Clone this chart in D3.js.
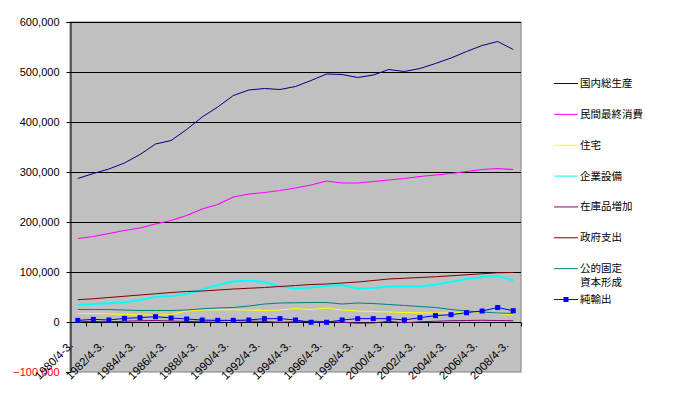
<!DOCTYPE html>
<html>
<head>
<meta charset="utf-8">
<script src="https://cdn.jsdelivr.net/npm/d3@7"></script>
<style>
  body { margin: 0; background: #fff; }
  svg { display: block; font-family: "Liberation Sans", Arial, sans-serif; }
</style>
</head>
<body>
<svg id="chart" width="677" height="396"></svg>
<script>
// fiscal years 1980..2008 (April - March)
const years = d3.range(1980, 2009).map((y) => `${y}/4-3.`);

const gdp = [287000, 297000, 306000, 318000, 335000, 356000, 363000, 385000, 410000, 430000,
  453000, 464000, 467000, 465000, 471000, 483000, 496000, 495000, 489000, 494000,
  505000, 501000, 507000, 517000, 528000, 541000, 553000, 561000, 545000];
const consumption = [167000, 171000, 177000, 183000, 188000, 196000, 203000, 213000, 226000, 235000,
  250000, 256000, 259000, 263000, 268000, 274000, 282000, 278000, 278000, 281000,
  284000, 287000, 291000, 294000, 297000, 301000, 305000, 307000, 305000];
const housing = [17000, 17000, 16500, 15000, 14000, 14000, 15000, 22000, 24000, 25000,
  24500, 24000, 23000, 24000, 27000, 25000, 28000, 24000, 22000, 21000,
  20000, 19000, 18500, 18000, 18000, 19000, 20000, 17000, 15000];
const investment = [34000, 36000, 37500, 39500, 44000, 50000, 52000, 56000, 65000, 74000,
  81000, 83000, 80000, 71000, 67000, 69000, 72000, 74000, 67000, 68000,
  71000, 71000, 71000, 75000, 80000, 86000, 90000, 92000, 83000];
const inventory = [1500, 1000, 500, 1500, 2500, 3000, 2000, 1000, 1500, 2500,
  3000, 2000, 1000, -500, 500, 1500, 1000, -500, -2500, -2000,
  1500, -1500, 500, 1500, 2500, 3000, 3500, 3000, 2500];
const government = [44600, 46500, 49000, 51500, 54000, 56500, 59000, 61000, 62000, 64000,
  66000, 67500, 69000, 71000, 73000, 75000, 76000, 78000, 80000, 83000,
  86000, 87500, 89000, 90500, 92500, 94500, 96500, 98500, 99000];
const publicInvest = [25000, 25000, 25000, 24000, 23000, 23000, 23000, 24000, 26500, 28000,
  29000, 32000, 36000, 38000, 38500, 39000, 39000, 36000, 38000, 37000,
  35000, 33000, 31000, 29000, 25000, 22000, 20000, 18000, 17000];
const netExports = [3300, 5300, 4000, 7300, 8700, 10700, 8000, 6000, 4000, 3300,
  3300, 4000, 6700, 6700, 4000, -500, -500, 4000, 6700, 6700,
  6700, 4000, 8700, 12700, 14700, 18700, 22000, 29000, 22600];

const yTicks = [-100000, 0, 100000, 200000, 300000, 400000, 500000, 600000];

const series = [
  { name: ["国内総生産"], values: gdp, color: "#000080", width: 1 },
  { name: ["民間最終消費"], values: consumption, color: "#FF00FF", width: 1.2 },
  { name: ["住宅"], values: housing, color: "#FFFF00", width: 1.2 },
  { name: ["企業設備"], values: investment, color: "#00FFFF", width: 2 },
  { name: ["在庫品増加"], values: inventory, color: "#800080", width: 1 },
  { name: ["政府支出"], values: government, color: "#800000", width: 1 },
  { name: ["公的固定", "資本形成"], values: publicInvest, color: "#008080", width: 1 },
  { name: ["純輸出"], values: netExports, color: "#0000FF", width: 1, marker: true },
];

const svg = d3.select("#chart");
const plot = { left: 70, right: 521, top: 22, bottom: 372 };

const x = d3.scaleBand().domain(years).range([plot.left, plot.right]);
const y = d3.scaleLinear().domain([-100000, 600000]).range([plot.bottom, plot.top]);
const cx = (d) => x(d) + x.bandwidth() / 2;

svg.append("rect")
  .attr("x", plot.left).attr("y", plot.top)
  .attr("width", plot.right - plot.left).attr("height", plot.bottom - plot.top)
  .attr("fill", "#C0C0C0").attr("stroke", "#808080");

// gridlines
svg.append("g").selectAll("line")
  .data(yTicks.filter((t) => t > -100000))
  .join("line")
  .attr("x1", plot.left).attr("x2", plot.right)
  .attr("y1", (d) => y(d) + 0.5).attr("y2", (d) => y(d) + 0.5)
  .attr("stroke", "#000");

// y axis
const yAxis = svg.append("g")
  .attr("transform", `translate(${plot.left + 0.5},0)`)
  .call(d3.axisLeft(y).tickValues(yTicks).tickFormat(d3.format(",")).tickSize(4).tickPadding(7));
yAxis.select(".domain").attr("stroke", "#000");
yAxis.selectAll("text")
  .attr("font-size", 11)
  .attr("font-family", "Liberation Sans, Arial, sans-serif")
  .attr("fill", (d) => (d < 0 ? "#FF0000" : "#000"));

// x axis on the zero line, ticks between categories
const zy = y(0) + 0.5;
svg.append("line")
  .attr("x1", plot.left).attr("x2", plot.right)
  .attr("y1", zy).attr("y2", zy).attr("stroke", "#000");
svg.append("g").selectAll("line")
  .data(years.slice(1).concat([null]))
  .join("line")
  .attr("x1", (d) => (d ? Math.round(x(d)) : plot.right) + 0.5)
  .attr("x2", (d) => (d ? Math.round(x(d)) : plot.right) + 0.5)
  .attr("y1", zy).attr("y2", zy + 4)
  .attr("stroke", "#000");

svg.append("g").selectAll("text")
  .data(years.filter((d, i) => i % 2 === 0))
  .join("text")
  .attr("transform", (d) => `translate(${cx(d) - 4},${y(0) + 24}) rotate(-45)`)
  .attr("text-anchor", "end")
  .attr("font-size", 11.5)
  .attr("fill", "#000")
  .text((d) => d);

// series lines
const line = d3.line().x((d, i) => cx(years[i])).y((d) => y(d));
series.forEach((s) => {
  svg.append("path")
    .datum(s.values)
    .attr("d", line)
    .attr("fill", "none")
    .attr("stroke", s.color)
    .attr("stroke-width", s.width)
    .attr("stroke-linejoin", "round");
  if (s.marker) {
    svg.append("g").selectAll("rect")
      .data(s.values)
      .join("rect")
      .attr("x", (d, i) => cx(years[i]) - 2.5)
      .attr("y", (d) => y(d) - 2.5)
      .attr("width", 5).attr("height", 5)
      .attr("fill", s.color);
  }
});

// legend
const legend = svg.append("g")
  .attr("font-family", "Noto Sans CJK JP, sans-serif")
  .attr("font-size", 10.5);
series.forEach((s, i) => {
  const ly = 83 + i * 30.86;
  legend.append("line")
    .attr("x1", 554).attr("x2", 578)
    .attr("y1", ly + 0.5).attr("y2", ly + 0.5)
    .attr("stroke", s.color).attr("stroke-width", 1);
  if (s.marker) {
    legend.append("rect")
      .attr("x", 563.5).attr("y", ly - 2)
      .attr("width", 5).attr("height", 5).attr("fill", s.color);
  }
  legend.selectAll(null)
    .data(s.name)
    .join("text")
    .attr("x", 580)
    .attr("y", (d, k) => ly + 4 + k * 14)
    .attr("fill", "#000")
    .text((d) => d);
});
</script>
</body>
</html>
